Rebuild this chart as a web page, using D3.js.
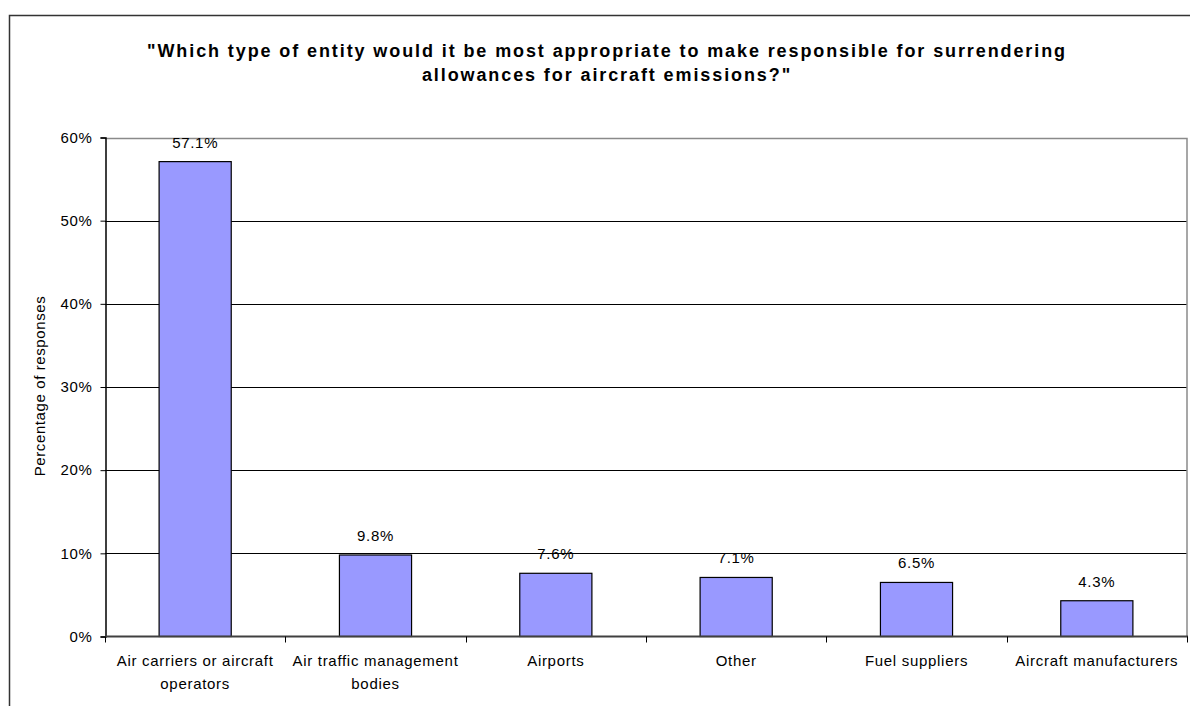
<!DOCTYPE html>
<html>
<head>
<meta charset="utf-8">
<script src="https://cdn.jsdelivr.net/npm/d3@7"></script>
<style>
  html, body { margin: 0; padding: 0; background: #fff; }
  svg { display: block; font-family: "Liberation Sans", Arial, sans-serif; }
</style>
</head>
<body>
<svg id="chart" width="1190" height="706"></svg>
<script>
const titleLines = ['"Which type of entity would it be most appropriate to make responsible for surrendering', 'allowances for aircraft emissions?"'];
const categories = ["Air carriers or aircraft operators", "Air traffic management bodies", "Airports", "Other", "Fuel suppliers", "Aircraft manufacturers"];
const categoryLines = [["Air carriers or aircraft", "operators"], ["Air traffic management", "bodies"], ["Airports"], ["Other"], ["Fuel suppliers"], ["Aircraft manufacturers"]];
const values = [57.1, 9.8, 7.6, 7.1, 6.5, 4.3];
const yTicks = [0, 10, 20, 30, 40, 50, 60];
const yTitle = "Percentage of responses";

const svg = d3.select("#chart");
const plot = { left: 105, right: 1187, top: 137.5, bottom: 636.5 };
const FS = 15, LS = 0.7;

// outer frame (cropped on right and bottom)
svg.append("path")
  .attr("d", `M9.5,706V15.5H1190`)
  .attr("fill", "none").attr("stroke", "#333").attr("stroke-width", 1.5);

const x = d3.scaleBand().domain(categories).range([plot.left, plot.right]).paddingInner(0.6).paddingOuter(0.3);
const y = d3.scaleLinear().domain([0, 60]).range([plot.bottom, plot.top]);

// gridlines
svg.append("g").selectAll("line").data(yTicks.filter(d => d > 0 && d < 60)).join("line")
  .attr("x1", plot.left).attr("x2", plot.right)
  .attr("y1", d => Math.round(y(d)) + 0.5).attr("y2", d => Math.round(y(d)) + 0.5)
  .attr("stroke", "#000").attr("stroke-width", 1);

// plot area border (top, right)
svg.append("path")
  .attr("d", `M${plot.left},${Math.round(plot.top)+0.5}H${plot.right}V${plot.bottom}`)
  .attr("fill", "none").attr("stroke", "#8a8a8a").attr("stroke-width", 1.5);

// bars
svg.append("g").selectAll("rect").data(values).join("rect")
  .attr("x", (d, i) => x(categories[i]))
  .attr("y", d => y(d))
  .attr("width", x.bandwidth())
  .attr("height", d => y(0) - y(d))
  .attr("fill", "#9999FF").attr("stroke", "#000").attr("stroke-width", 1.2);

// value labels
svg.append("g").selectAll("text").data(values).join("text")
  .attr("x", (d, i) => x(categories[i]) + x.bandwidth() / 2)
  .attr("y", d => y(d) - 14)
  .attr("text-anchor", "middle")
  .attr("font-size", FS).attr("letter-spacing", LS).attr("fill", "#000")
  .text(d => d.toFixed(1) + "%");

// y axis
const yAxis = d3.axisLeft(y).tickValues(yTicks).tickFormat(d => d + "%").tickSize(5).tickPadding(8);
const gy = svg.append("g").attr("transform", `translate(${plot.left + 0.5},0)`).call(yAxis);
gy.select(".domain").attr("stroke", "#000").attr("stroke-width", 1.5);
gy.selectAll(".tick line").attr("stroke", "#000");
gy.selectAll(".tick text").attr("font-size", FS).attr("letter-spacing", LS)
  .attr("font-family", '"Liberation Sans", Arial, sans-serif').attr("fill", "#000");

// x axis
const boundaries = d3.range(categories.length + 1).map(i => plot.left + i * x.step());
const gx = svg.append("g");
gx.append("line").attr("x1", plot.left).attr("x2", plot.right + 1)
  .attr("y1", plot.bottom).attr("y2", plot.bottom)
  .attr("stroke", "#404040").attr("stroke-width", 2);
gx.selectAll("line.tk").data(boundaries).join("line").attr("class", "tk")
  .attr("x1", d => Math.round(d) + 0.5).attr("x2", d => Math.round(d) + 0.5)
  .attr("y1", plot.bottom).attr("y2", plot.bottom + 6)
  .attr("stroke", "#000");

const xl = svg.append("g").selectAll("text").data(categoryLines).join("text")
  .attr("text-anchor", "middle").attr("font-size", FS).attr("letter-spacing", LS).attr("fill", "#000");
xl.each(function(lines, i) {
  const cx = x(categories[i]) + x.bandwidth() / 2;
  d3.select(this).selectAll("tspan").data(lines).join("tspan")
    .attr("x", cx).attr("y", (d, j) => 665.5 + j * 23).text(d => d);
});

// y title
svg.append("text")
  .attr("transform", `translate(45,386) rotate(-90)`)
  .attr("text-anchor", "middle").attr("font-size", FS).attr("letter-spacing", 0.6)
  .text(yTitle);

// title
svg.append("g").selectAll("text").data(titleLines).join("text")
  .attr("x", 607).attr("y", (d, i) => 57 + i * 24)
  .attr("text-anchor", "middle").attr("font-size", 18).attr("font-weight", "bold")
  .attr("letter-spacing", 1.9)
  .text(d => d);
</script>
</body>
</html>
